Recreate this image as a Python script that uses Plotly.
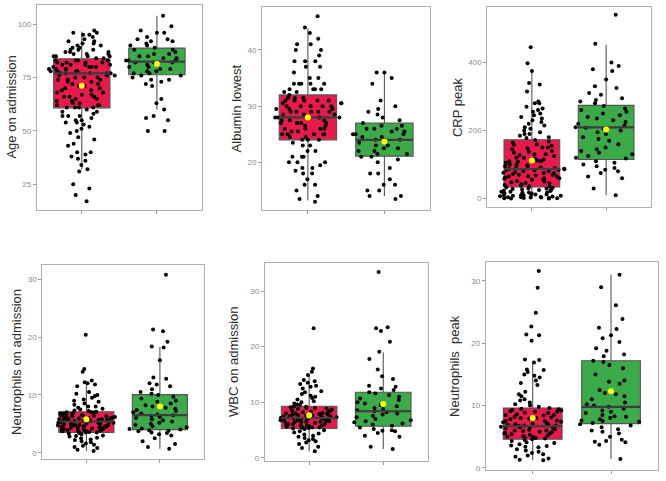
import plotly.graph_objects as go

# ---------------- data ----------------
titles = ["Age on admission", "Albumin lowest", "CRP peak",
          "Neutrophils on admission", "WBC on admission", "Neutrophils  peak"]
groups = ["Group A", "Group B"]

# precomputed box statistics per panel: [red, green]
q1 = [[60.8, 76.3], [24.0, 21.1], [34, 115], [3.5, 4.0], [5.3, 5.7], [4.6, 7.1]]
median = [[77.0, 82.5], [28.0, 24.0], [87, 209], [5.4, 6.5], [7.2, 8.4], [6.7, 9.8]]
q3 = [[83.8, 88.8], [32.0, 27.0], [173, 274], [7.1, 10.05], [9.3, 11.8], [9.6, 17.2]]
lowerfence = [[32.0, 60.0], [13.2, 14.0], [0, 10], [0.3, 0.7], [1.2, 1.6], [1.2, 1.4]]
upperfence = [[96.6, 103.9], [43.8, 36.0], [376, 452], [12.3, 18.3], [14.9, 19.0], [16.8, 31.0]]
means = [[71.2, 81.3], [28.0, 23.7], [112, 203], [5.8, 8.0], [7.7, 9.7], [8.0, 12.3]]

tickvals = [[25, 50, 75, 100], [20, 30, 40], [0, 200, 400],
            [0, 10, 20, 30], [0, 10, 20, 30], [0, 10, 20, 30]]
yranges = [[12.9, 109], [11.5, 47.7], [-26, 564], [-1.1, 32.5], [-0.5, 35], [-0.4, 33.1]]

age_red = [96, 95, 96, 97, 95, 94, 93, 92, 92, 91, 91, 90, 90, 89, 89, 88, 88, 88, 87, 87, 87, 86, 86, 86, 85, 85, 85, 85,
           84, 84, 83, 83, 83, 83, 82, 82, 82, 82, 81, 81, 81, 81, 80, 80, 80, 80, 79, 79, 79, 79, 78, 78, 78, 78, 77, 77,
           77, 77, 77, 76, 76, 76, 75, 75, 75, 74, 74, 74, 73, 73, 72, 72, 71, 71, 70, 70, 69, 69, 68, 68, 67, 67, 66, 66,
           66, 65, 65, 64, 64, 63, 63, 62, 62, 62, 61, 61, 61, 61,
           60, 59, 59, 58, 57, 57, 57, 56, 55, 55, 54, 54, 53, 52, 51, 50, 49, 47, 46, 44, 43, 40, 40, 39, 38, 37, 36, 34,
           32, 31, 25, 23, 20, 17]
age_green = [104, 99, 97, 96, 96, 94, 93, 93, 92, 92, 91, 90, 90, 89,
             88, 88, 87, 86, 86, 85, 85, 84, 84, 83, 83, 83, 82, 82, 82, 81, 81, 80, 80, 79, 79, 78, 78, 77, 77, 76, 76,
             75, 74, 74, 73, 72, 71, 65, 63, 60, 57, 56, 55, 50, 50]

alb_red = [46, 44, 43, 41, 41, 42, 40, 40, 39, 38, 38, 38, 37, 37, 36, 35, 35, 34, 34, 34, 34, 34, 33, 33, 33, 33, 32.5, 32.5,
           32, 31.5, 31.5, 31, 31, 31, 31, 30.5, 30.5, 30, 30, 30, 30, 29.5, 29.5, 29, 29, 29, 29, 28.5, 28.5, 28, 28, 28,
           28, 28, 27.5, 27.5, 27, 27, 27, 27, 26.5, 26.5, 26, 26, 26, 25.5, 25.5, 25, 25, 25, 25, 24.5, 24.5, 24, 24, 24,
           31, 30, 29, 28, 27, 26, 25, 27.5, 28.5, 29.5, 30.5, 31.5,
           23.5, 23, 23, 22, 22, 21, 21, 21, 20, 20, 20, 19.5, 19, 19, 18.5, 18, 18, 17, 16, 16, 15, 14, 13.5, 13]
alb_green = [36, 36, 35, 34, 31, 30, 29.5, 29, 28.5, 28, 27.5,
             27, 26.5, 26.5, 26, 26, 26, 25.5, 25.5, 25, 25, 25, 24.5, 24.5, 24, 24, 24, 23.5, 23, 23, 22.5, 22.5, 22, 22,
             21.5, 21.5, 21, 21,
             20.5, 20, 19, 18, 18, 17, 16, 16, 15, 15, 14, 14, 13.5]

crp_red = [445, 398, 375, 340, 335, 315, 285, 280, 280, 270, 265, 260, 255, 250, 245, 240, 235, 230, 225, 220, 215, 210,
           205, 200, 195, 190, 190, 185, 180, 178,
           172, 168, 165, 160, 158, 155, 150, 148, 145, 140, 138, 135, 130, 128, 125, 120, 118, 115, 112, 110, 108, 105,
           102, 100, 98, 95, 92, 90, 88, 86, 85, 83, 80, 78, 76, 75, 72, 70, 68, 66, 65, 62, 60, 58, 56, 55, 52, 50, 48,
           46, 45, 42, 40, 38, 36, 35, 88, 90, 85, 80, 75, 70, 65, 60, 120, 130, 150, 100, 95, 110,
           33, 32, 30, 30, 28, 27, 25, 24, 22, 20, 20, 18, 17, 15, 15, 14, 12, 11, 10, 10, 9, 8, 7, 6, 5, 5, 4, 3, 3, 2, 2,
           1, 1, 0, 0, 25, 18, 12, 8, 4]
crp_green = [540, 455, 400, 390, 380, 375, 350, 330, 325, 310, 305, 295, 290, 285, 280,
             272, 265, 260, 255, 250, 245, 240, 235, 230, 225, 220, 215, 210, 208, 205, 200, 195, 190, 180, 175, 170,
             160, 150, 145, 140, 135, 130, 125, 120, 118,
             110, 105, 100, 95, 90, 85, 80, 75, 65, 60, 30, 10]

neuadm_red = [20.4, 14.5, 14.0, 12.5, 12.2, 12.0, 11.8, 11.5, 10.5, 10.2, 10.0, 9.8, 9.5, 9.2, 9.0, 8.8, 8.5, 8.3, 8.0,
              8.0, 7.8, 7.6, 7.5, 7.3, 7.2,
              7.1, 7.0, 7.0, 6.9, 6.8, 6.8, 6.7, 6.6, 6.5, 6.5, 6.4, 6.3, 6.2, 6.2, 6.1, 6.0, 6.0, 5.9, 5.8, 5.8, 5.7, 5.7,
              5.6, 5.6, 5.5, 5.5, 5.4, 5.4, 5.3, 5.3, 5.2, 5.2, 5.1, 5.0, 5.0, 4.9, 4.9, 4.8, 4.8, 4.7, 4.6, 4.6, 4.5,
              4.5, 4.4, 4.3, 4.3, 4.2, 4.1, 4.0, 4.0, 3.9, 3.9, 3.8, 3.7, 3.7, 3.6, 3.6, 3.5, 3.5, 6.0, 5.5, 5.0, 4.5,
              6.5, 7.0, 3.8, 4.2, 5.8, 6.3, 4.7,
              3.4, 3.3, 3.2, 3.0, 2.9, 2.8, 2.6, 2.5, 2.3, 2.2, 2.0, 1.8, 1.6, 1.4, 1.2, 1.0, 0.8, 0.5, 0.3]
neuadm_green = [30.8, 21.3, 21.0, 19.2, 18.4, 18.2, 16.0, 13.0, 12.8, 12.0, 11.8, 11.5, 11.0, 10.5, 10.2,
                10.0, 9.7, 9.4, 9.0, 8.8, 8.5, 8.2, 8.0, 7.8, 7.6, 7.4, 7.2, 7.0, 6.8, 6.6, 6.5, 6.4, 6.2, 6.0, 5.8, 5.6,
                5.4, 5.2, 5.0, 4.8, 4.6, 4.4, 4.2, 4.1, 4.0,
                3.9, 3.8, 3.7, 3.5, 3.4, 3.2, 3.0, 2.5, 2.0, 1.5, 1.0, 0.7]

wbc_red = [23.3, 16.1, 15.5, 14.9, 14.0, 13.8, 13.5, 13.3, 13.0, 12.8, 12.5, 12.0, 11.8, 11.5, 11.2, 11.0, 10.8, 10.5,
           10.2, 10.0, 9.8, 9.6, 9.5,
           9.3, 9.2, 9.1, 9.0, 8.9, 8.8, 8.7, 8.6, 8.5, 8.4, 8.3, 8.2, 8.1, 8.0, 8.0, 7.9, 7.8, 7.8, 7.7, 7.6, 7.6, 7.5,
           7.4, 7.4, 7.3, 7.2, 7.2, 7.1, 7.1, 7.0, 7.0, 6.9, 6.8, 6.8, 6.7, 6.6, 6.6, 6.5, 6.4, 6.4, 6.3, 6.2, 6.1, 6.0,
           6.0, 5.9, 5.8, 5.8, 5.7, 5.6, 5.6, 5.5, 5.4, 5.4, 5.3, 7.0, 7.5, 8.0, 6.5, 6.0, 8.5, 9.0, 5.5, 7.2, 6.8,
           5.2, 5.0, 4.8, 4.6, 4.4, 4.2, 4.0, 3.8, 3.6, 3.4, 3.2, 3.0, 2.8, 2.5, 2.0, 1.8, 1.2]
wbc_green = [33.4, 23.5, 23.3, 22.8, 20.9, 19.1, 17.8, 15.9, 14.7, 14.2, 13.0, 12.8, 12.5, 12.2,
             11.8, 11.6, 11.3, 11.0, 10.7, 10.4, 10.0, 9.8, 9.5, 9.3, 9.0, 8.8, 8.6, 8.4, 8.2, 8.0, 7.8, 7.6, 7.3, 7.0,
             6.8, 6.6, 6.4, 6.2, 6.0, 5.8,
             5.5, 5.2, 5.0, 4.9, 4.8, 4.5, 4.0, 3.8, 2.0, 1.6]

neupk_red = [31.6, 28.9, 24.9, 22.7, 21.4, 21.3, 20.4, 17.4, 17.3, 16.9, 15.8, 15.7, 15.4, 15.0, 14.8, 14.5, 14.0, 13.6,
             13.3, 12.2, 11.8, 11.5, 11.0, 10.8, 10.5, 10.2, 10.0, 9.8,
             9.6, 9.5, 9.4, 9.3, 9.1, 9.0, 8.9, 8.8, 8.6, 8.5, 8.4, 8.2, 8.1, 8.0, 7.9, 7.8, 7.6, 7.5, 7.4, 7.3, 7.2, 7.1,
             7.0, 6.9, 6.8, 6.8, 6.7, 6.6, 6.5, 6.4, 6.3, 6.2, 6.1, 6.0, 5.9, 5.8, 5.7, 5.6, 5.5, 5.4, 5.3, 5.2, 5.1, 5.0,
             4.9, 4.8, 4.7, 4.6, 6.0, 7.0, 8.0, 9.0, 5.5, 6.5, 7.5, 8.5, 5.0, 9.2,
             4.5, 4.3, 4.1, 4.0, 3.8, 3.6, 3.5, 3.4, 3.3, 3.0, 2.8, 2.6, 2.4, 2.2, 2.0, 1.8, 1.5, 1.3, 1.2]
neupk_green = [31.0, 29.0, 26.1, 23.9, 22.5, 22.3, 21.3, 20.8, 20.2, 19.2, 18.8, 18.2, 17.9,
               17.2, 17.0, 16.5, 16.0, 15.0, 14.0, 13.8, 13.5, 12.5, 12.0, 11.8, 11.5, 11.0, 10.5, 10.2, 10.0, 9.8, 9.5,
               9.2, 9.0, 8.8, 8.5, 8.3, 8.2, 8.0, 7.8, 7.6, 7.5, 7.4, 7.2,
               7.0, 6.8, 6.5, 6.2, 6.0, 5.8, 5.5, 5.0, 4.5, 4.3, 4.2, 4.1, 3.7, 1.4]

values = [[age_red, age_green], [alb_red, alb_green], [crp_red, crp_green],
          [neuadm_red, neuadm_green], [wbc_red, wbc_green], [neupk_red, neupk_green]]

# ---------------- styling / layout ----------------
W, H = 666, 481
fills = ["#E8194B", "#3BAA48"]
box_w = 0.75
pts_w = 0.88
# panel pixel rectangles: (x0, x1, y0_top, y1_bottom)
rects = [(36.7, 202, 5, 211), (262, 430.3, 6.7, 211), (487.3, 650.7, 6.7, 208.3),
         (42.3, 204, 266, 461), (264.7, 427.7, 264.3, 462.7), (485.7, 658, 262.7, 472.3)]
title_x = [12, 236, 457, 17, 234, 455]

fig = go.Figure()
layout = dict(width=W, height=H, margin=dict(l=0, r=0, t=0, b=0),
              paper_bgcolor="white", plot_bgcolor="white", showlegend=False,
              boxmode="overlay", font=dict(family="Liberation Sans, Arial, sans-serif"))
annotations = []

for i in range(6):
    xa = "x" if i == 0 else f"x{i+1}"
    ya = "y" if i == 0 else f"y{i+1}"
    for g in range(2):
        cat = g + 1
        fig.add_trace(go.Box(
            x=[cat], q1=[q1[i][g]], median=[median[i][g]], q3=[q3[i][g]],
            lowerfence=[lowerfence[i][g]], upperfence=[upperfence[i][g]],
            fillcolor=fills[g], line=dict(color="#555555", width=1.1),
            boxpoints=False, width=box_w, whiskerwidth=0,
            xaxis=xa, yaxis=ya, hoverinfo="skip"))
        vals = values[i][g]
        fig.add_trace(go.Box(
            x=[cat] * len(vals), y=vals, boxpoints="all", jitter=1.0, pointpos=0,
            fillcolor="rgba(0,0,0,0)", line=dict(color="rgba(0,0,0,0)", width=0),
            marker=dict(color="black", size=4), width=pts_w, whiskerwidth=0,
            xaxis=xa, yaxis=ya, hoverinfo="skip"))
        fig.add_trace(go.Scatter(
            x=[cat - box_w / 2, cat + box_w / 2], y=[median[i][g]] * 2, mode="lines",
            line=dict(color="#3d3d3d", width=2.2), xaxis=xa, yaxis=ya, hoverinfo="skip"))
        fig.add_trace(go.Scatter(
            x=[cat], y=[means[i][g]], mode="markers",
            marker=dict(color="#FFFF00", size=6), xaxis=xa, yaxis=ya, hoverinfo="skip"))

    x0, x1, yt, yb = rects[i]
    key = "" if i == 0 else str(i + 1)
    layout["xaxis" + key] = dict(domain=[x0 / W, x1 / W], anchor=ya, range=[0.4, 2.6],
                                 tickvals=[1, 2], showticklabels=False, ticks="outside",
                                 ticklen=3, tickcolor="#999999", showline=True, mirror=True,
                                 linecolor="#b0b0b0", linewidth=1, showgrid=False, zeroline=False)
    layout["yaxis" + key] = dict(domain=[1 - yb / H, 1 - yt / H], anchor=xa, range=yranges[i],
                                 tickvals=tickvals[i], ticks="outside", ticklen=3,
                                 tickcolor="#999999", tickfont=dict(size=8, color="#8a8a8a"),
                                 showline=True, mirror=True, linecolor="#b0b0b0", linewidth=1,
                                 showgrid=False, zeroline=False)
    annotations.append(dict(text=titles[i], x=title_x[i] / W, y=1 - (yt + yb) / 2 / H,
                            xref="paper", yref="paper", showarrow=False, textangle=-90,
                            font=dict(size=13, color="#2b2b2b"), xanchor="center", yanchor="middle"))

layout["annotations"] = annotations
fig.update_layout(**layout)
fig.write_html("out.html")
